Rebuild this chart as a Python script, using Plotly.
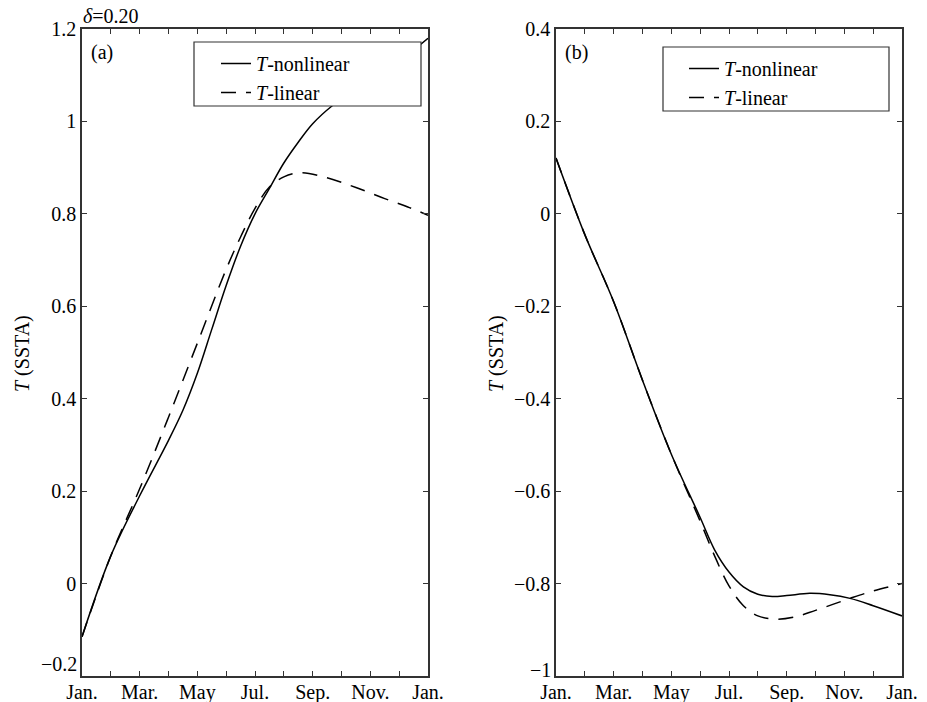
import plotly.graph_objects as go

# ---------------- data ----------------
month_ticks = list(range(13))
month_labels = ["Jan.", "", "Mar.", "", "May", "", "Jul.", "", "Sep.", "", "Nov.", "", "Jan."]

# panel (a)
a_x_nonlin = [0, 1, 2, 3, 3.5, 4, 4.5, 5, 5.5, 6, 6.5, 7, 7.5, 8, 8.7, 9.5, 10.5, 11.3, 12]
a_nonlin = [-0.115, 0.06, 0.19, 0.31, 0.375, 0.455, 0.55, 0.645, 0.73, 0.80, 0.855, 0.91, 0.955, 0.995, 1.035, 1.07, 1.11, 1.145, 1.18]
a_x_lin = [0, 1, 2, 3, 4, 5, 5.5, 6, 6.5, 7, 7.6, 8.5, 9.5, 10.5, 11.3, 12]
a_lin = [-0.115, 0.06, 0.205, 0.36, 0.52, 0.68, 0.75, 0.812, 0.858, 0.88, 0.889, 0.878, 0.857, 0.833, 0.815, 0.797]

# panel (b)
b_x_nonlin = [0, 1, 2, 3, 4, 5, 5.5, 6, 6.5, 7, 7.5, 8, 8.8, 9.5, 10.2, 11, 12]
b_nonlin = [0.121, -0.045, -0.19, -0.36, -0.52, -0.657, -0.727, -0.775, -0.807, -0.823, -0.828, -0.826, -0.821, -0.824, -0.832, -0.848, -0.87]
b_x_lin = [0, 1, 2, 3, 4, 5, 5.5, 6, 6.5, 7, 7.65, 8.3, 9, 10.2, 11, 12]
b_lin = [0.121, -0.045, -0.19, -0.36, -0.52, -0.665, -0.74, -0.805, -0.848, -0.87, -0.877, -0.872, -0.858, -0.832, -0.816, -0.80]

a_yticks = [-0.2, 0, 0.2, 0.4, 0.6, 0.8, 1, 1.2]
a_yticktext = ["", "0", "0.2", "0.4", "0.6", "0.8", "1", "1.2"]   # bottom label placed separately
a_ybottom_label = "−0.2"
b_yticks = [-1, -0.8, -0.6, -0.4, -0.2, 0, 0.2, 0.4]
b_yticktext = ["", "−0.8", "−0.6", "−0.4", "−0.2", "0", "0.2", "0.4"]
b_ybottom_label = "−1"

# ---------------- figure ----------------
W, H = 927, 702
FONT = "Liberation Serif"
FS = 20


def px_x(p):
    return p / W


def px_y(p):
    return 1 - p / H


fig = go.Figure()

line_solid = dict(color="black", width=1.5, shape="spline", smoothing=1.0)
line_dash = dict(color="black", width=1.5, dash="15px,10px", shape="spline", smoothing=1.0)

fig.add_trace(go.Scatter(x=a_x_nonlin, y=a_nonlin, mode="lines", line=line_solid,
                         name="<i>T</i>-nonlinear", xaxis="x", yaxis="y",
                         legend="legend", legendgroup="a1"))
fig.add_trace(go.Scatter(x=a_x_lin, y=a_lin, mode="lines", line=line_dash,
                         name="<i>T</i>-linear", xaxis="x", yaxis="y",
                         legend="legend", legendgroup="a2"))
fig.add_trace(go.Scatter(x=b_x_nonlin, y=b_nonlin, mode="lines", line=line_solid,
                         name="<i>T</i>-nonlinear", xaxis="x2", yaxis="y2",
                         legend="legend2", legendgroup="b1"))
fig.add_trace(go.Scatter(x=b_x_lin, y=b_lin, mode="lines", line=line_dash,
                         name="<i>T</i>-linear", xaxis="x2", yaxis="y2",
                         legend="legend2", legendgroup="b2"))

axcol = "#333333"
common_x = dict(range=[0, 12], tickvals=month_ticks, ticktext=month_labels,
                ticks="inside", ticklen=5, tickwidth=1.2, tickcolor=axcol,
                showline=True, linecolor=axcol, linewidth=1.5, mirror="allticks",
                showgrid=False, zeroline=False, automargin=False,
                ticklabelstandoff=-3,
                tickfont=dict(family=FONT, size=FS, color="black"))
common_y = dict(ticks="inside", ticklen=5, tickwidth=1.2, tickcolor=axcol,
                showline=True, linecolor=axcol, linewidth=1.5, mirror="allticks",
                showgrid=False, zeroline=False, automargin=False,
                tickfont=dict(family=FONT, size=FS, color="black"))

ydom = [px_y(676), px_y(29)]

fig.update_layout(
    width=W, height=H,
    margin=dict(l=0, r=0, t=0, b=0, autoexpand=False),
    paper_bgcolor="white", plot_bgcolor="white",
    font=dict(family=FONT, size=FS, color="black"),
    xaxis=dict(domain=[px_x(82), px_x(428)], anchor="y", **common_x),
    yaxis=dict(domain=ydom, anchor="x", range=[-0.2, 1.2], tickvals=a_yticks,
               ticktext=a_yticktext, **common_y),
    xaxis2=dict(domain=[px_x(556), px_x(902)], anchor="y2", **common_x),
    yaxis2=dict(domain=ydom, anchor="x2", range=[-1, 0.4], tickvals=b_yticks,
                ticktext=b_yticktext, **common_y),
    legend=dict(x=px_x(216), y=px_y(44), xanchor="left", yanchor="top",
                bgcolor="rgba(0,0,0,0)", borderwidth=0, tracegroupgap=0,
                font=dict(family=FONT, size=FS, color="black")),
    legend2=dict(x=px_x(684), y=px_y(49), xanchor="left", yanchor="top",
                 bgcolor="rgba(0,0,0,0)", borderwidth=0, tracegroupgap=0,
                 font=dict(family=FONT, size=FS, color="black")),
    shapes=[
        dict(type="rect", xref="paper", yref="paper",
             x0=px_x(194), x1=px_x(421), y0=px_y(106), y1=px_y(42),
             fillcolor="white", line=dict(color=axcol, width=1.2), layer="above"),
        dict(type="rect", xref="paper", yref="paper",
             x0=px_x(663), x1=px_x(889), y0=px_y(111), y1=px_y(47),
             fillcolor="white", line=dict(color=axcol, width=1.2), layer="above"),
    ],
    annotations=[
        dict(text=a_ybottom_label, xref="paper", yref="paper", x=px_x(79), y=px_y(664),
             xanchor="right", yanchor="middle", showarrow=False,
             font=dict(family=FONT, size=FS)),
        dict(text=b_ybottom_label, xref="paper", yref="paper", x=px_x(553), y=px_y(670),
             xanchor="right", yanchor="middle", showarrow=False,
             font=dict(family=FONT, size=FS)),
        dict(text="(a)", xref="paper", yref="paper", x=px_x(89), y=px_y(52),
             xanchor="left", yanchor="middle", showarrow=False,
             font=dict(family=FONT, size=FS)),
        dict(text="(b)", xref="paper", yref="paper", x=px_x(563), y=px_y(52),
             xanchor="left", yanchor="middle", showarrow=False,
             font=dict(family=FONT, size=FS)),
        dict(text="<i>δ</i>=0.20", xref="paper", yref="paper", x=px_x(81), y=px_y(16),
             xanchor="left", yanchor="middle", showarrow=False,
             font=dict(family=FONT, size=FS)),
        dict(text="<i>T</i> (SSTA)", xref="paper", yref="paper", x=px_x(22), y=px_y(354),
             xanchor="center", yanchor="middle", showarrow=False, textangle=-90,
             font=dict(family=FONT, size=FS)),
        dict(text="<i>T</i> (SSTA)", xref="paper", yref="paper", x=px_x(496), y=px_y(354),
             xanchor="center", yanchor="middle", showarrow=False, textangle=-90,
             font=dict(family=FONT, size=FS)),
    ],
)

fig.write_html("out.html")
